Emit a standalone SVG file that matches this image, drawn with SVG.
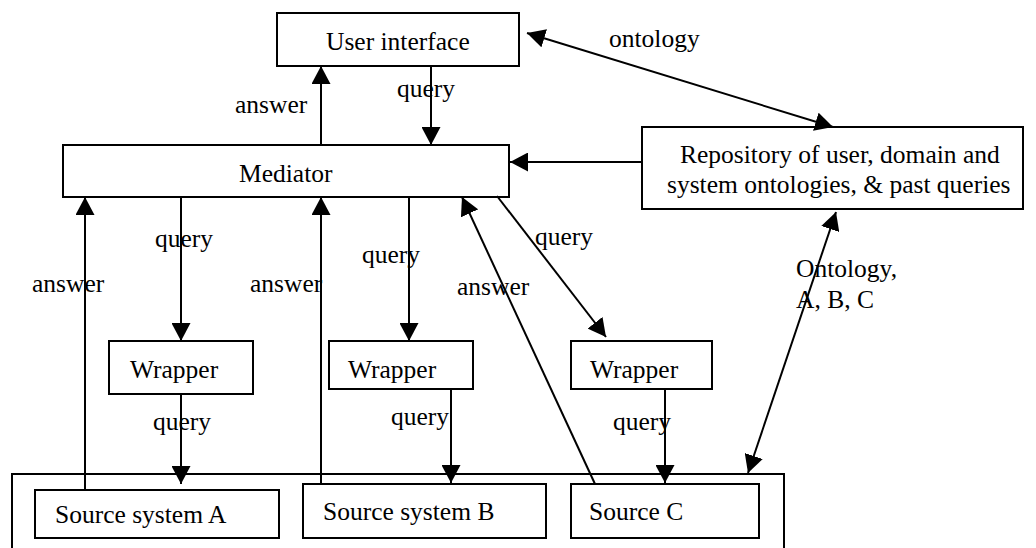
<svg xmlns="http://www.w3.org/2000/svg" width="1036" height="548" viewBox="0 0 1036 548">
<style>
.box{fill:#fff;stroke:#000;stroke-width:2}
.c{fill:none;stroke:#000;stroke-width:2}
text{font-family:"Liberation Serif","Times New Roman",serif;font-size:25.5px;fill:#000}
</style>
<defs>
<marker id="ah" markerUnits="userSpaceOnUse" markerWidth="19" markerHeight="19" refX="18" refY="9.5" orient="auto-start-reverse" viewBox="0 0 19 19">
<path d="M0,0 L18,9.5 L0,19 z" fill="#000"/>
</marker>
</defs>
<rect width="1036" height="548" fill="#fff"/>
<g id="container"><rect class="box" x="12" y="474" width="772" height="100"/></g>
<g id="ui"><rect class="box" x="277" y="13" width="242" height="53"/><text x="326" y="50">User interface</text></g>
<g id="mediator"><rect class="box" x="63" y="145" width="446" height="52"/><text x="239" y="182">Mediator</text></g>
<g id="repository"><rect class="box" x="642" y="127" width="381" height="82"/><text x="680" y="163">Repository of user, domain and</text><text x="667" y="193">system ontologies, &amp; past queries</text></g>
<g id="wrapperA"><rect class="box" x="109" y="341" width="144" height="53"/><text x="130" y="378">Wrapper</text></g>
<g id="wrapperB"><rect class="box" x="329" y="341" width="144" height="48"/><text x="348" y="378">Wrapper</text></g>
<g id="wrapperC"><rect class="box" x="571" y="341" width="141" height="48"/><text x="590" y="378">Wrapper</text></g>
<g id="sourceA"><rect class="box" x="35" y="490" width="244" height="48"/><text x="55" y="523">Source system A</text></g>
<g id="sourceB"><rect class="box" x="303" y="484" width="243" height="54"/><text x="323" y="520">Source system B</text></g>
<g id="sourceC"><rect class="box" x="571" y="484" width="188" height="54"/><text x="589" y="520">Source C</text></g>
<g id="connectors">
<line class="c" x1="321" y1="145" x2="321" y2="66" marker-end="url(#ah)"/>
<line class="c" x1="431" y1="66" x2="431" y2="145" marker-end="url(#ah)"/>
<line class="c" x1="527" y1="33" x2="833" y2="127" marker-start="url(#ah)" marker-end="url(#ah)"/>
<line class="c" x1="642" y1="162" x2="510" y2="162" marker-end="url(#ah)"/>
<line class="c" x1="85" y1="490" x2="85" y2="197" marker-end="url(#ah)"/>
<line class="c" x1="181" y1="197" x2="181" y2="341" marker-end="url(#ah)"/>
<line class="c" x1="321" y1="484" x2="321" y2="197" marker-end="url(#ah)"/>
<line class="c" x1="409" y1="197" x2="409" y2="341" marker-end="url(#ah)"/>
<line class="c" x1="595" y1="484" x2="462" y2="197" marker-end="url(#ah)"/>
<line class="c" x1="497" y1="196" x2="606" y2="337" marker-end="url(#ah)"/>
<line class="c" x1="181" y1="394" x2="181" y2="484" marker-end="url(#ah)"/>
<line class="c" x1="451" y1="389" x2="451" y2="483" marker-end="url(#ah)"/>
<line class="c" x1="665" y1="389" x2="665" y2="483" marker-end="url(#ah)"/>
<line class="c" x1="836" y1="212" x2="748" y2="473" marker-start="url(#ah)" marker-end="url(#ah)"/>
<text x="235" y="113">answer</text>
<text x="397" y="97">query</text>
<text x="609" y="47">ontology</text>
<text x="155" y="247">query</text>
<text x="362" y="263">query</text>
<text x="535" y="245">query</text>
<text x="32" y="292">answer</text>
<text x="250" y="292">answer</text>
<text x="457" y="295">answer</text>
<text x="796" y="277">Ontology,</text>
<text x="796" y="308">A, B, C</text>
<text x="153" y="430">query</text>
<text x="391" y="425">query</text>
<text x="613" y="430">query</text>
</g>
</svg>
